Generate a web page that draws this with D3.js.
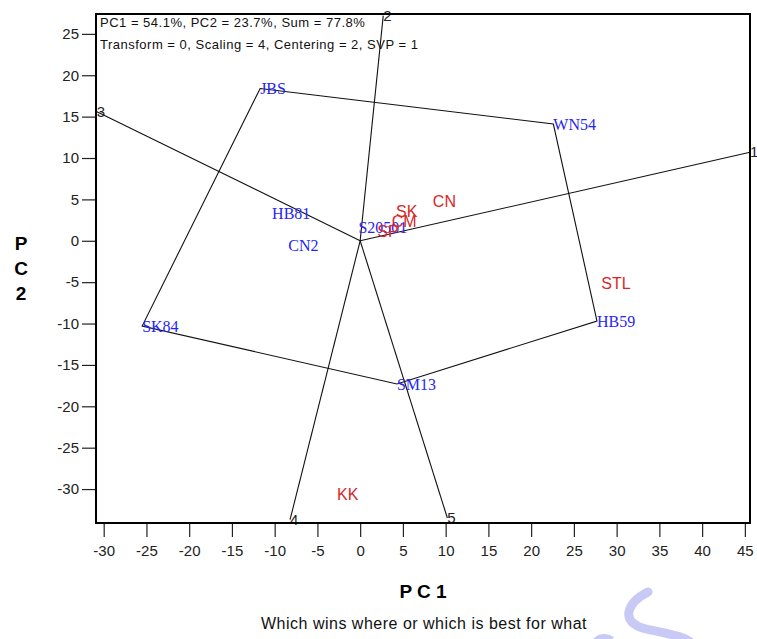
<!DOCTYPE html>
<html>
<head>
<meta charset="utf-8">
<script src="https://cdn.jsdelivr.net/npm/d3@7"></script>
<style>
  html, body { margin: 0; padding: 0; background: #fff; }
  svg { display: block; }
</style>
</head>
<body>
<svg id="chart" width="757" height="639"></svg>
<script>
// Genotypes (blue labels): PC1, PC2 scores
const genotypes = ["JBS", "WN54", "HB59", "SM13", "SK84", "HB81", "CN2", "S20501"];
const genoPC1 = [-11.7, 22.6, 27.7, 4.3, -25.5, -10.3, -8.4, -0.2];
const genoPC2 = [18.4, 14.1, -9.7, -17.3, -10.3, 3.3, -0.6, 1.6];

// Convex hull (polygon) order of genotype vertices
const hullOrder = ["JBS", "WN54", "HB59", "SM13", "SK84"];

// Environments (red labels): PC1, PC2 scores
const environments = ["SK", "CM", "SP", "CN", "STL", "KK"];
const envPC1 = [4.2, 3.7, 2.0, 8.5, 28.2, -2.7];
const envPC2 = [3.6, 2.3, 1.1, 4.7, -5.2, -30.6];

// Sector rays from the origin, perpendicular to polygon sides
const rayIds = ["1", "2", "3", "4", "5"];
const rayPC1 = [45.6, 2.7, -30.8, -8.2, 10.2];
const rayPC2 = [10.7, 27.2, 15.6, -33.7, -33.5];

// Axis ticks
const xTicks = [-30, -25, -20, -15, -10, -5, 0, 5, 10, 15, 20, 25, 30, 35, 40, 45];
const yTicks = [25, 20, 15, 10, 5, 0, -5, -10, -15, -20, -25, -30];

const headerLines = [
  "PC1 = 54.1%, PC2 = 23.7%, Sum = 77.8%",
  "Transform = 0, Scaling = 4, Centering = 2, SVP = 1"
];

const svg = d3.select("#chart");
const frame = { left: 96, right: 750, top: 14, bottom: 523 };

const x = d3.scaleLinear().domain([-30.9, 45.6]).range([frame.left, frame.right]);
const y = d3.scaleLinear().domain([-34.1, 27.4]).range([frame.bottom, frame.top]);

const sans = "'Liberation Sans', Arial, sans-serif";
const serif = "'Liberation Serif', 'Times New Roman', serif";
const plainInt = d => String(d);   // ASCII hyphen for negatives

// Axes
const xAxis = d3.axisBottom(x).tickValues(xTicks).tickSize(14).tickPadding(8).tickFormat(plainInt);
const yAxis = d3.axisLeft(y).tickValues(yTicks).tickSize(14).tickPadding(3).tickFormat(plainInt);

const gx = svg.append("g").attr("transform", `translate(0,${frame.bottom})`).call(xAxis);
const gy = svg.append("g").attr("transform", `translate(${frame.left},0)`).call(yAxis);
[gx, gy].forEach(g => {
  g.select(".domain").remove();
  g.selectAll(".tick line").attr("stroke", "#222").attr("stroke-width", 1.2);
  g.selectAll(".tick text").attr("fill", "#222").style("font-family", sans).style("font-size", "15px");
});

const plot = svg.append("g");

// Sector rays
plot.selectAll("line.ray").data(rayIds).join("line")
  .attr("class", "ray")
  .attr("x1", x(0)).attr("y1", y(0))
  .attr("x2", (d, i) => x(rayPC1[i])).attr("y2", (d, i) => y(rayPC2[i]))
  .attr("stroke", "#111").attr("stroke-width", 1.1);

// Polygon joining the outermost genotypes
const hullPts = hullOrder.map(n => {
  const i = genotypes.indexOf(n);
  return [x(genoPC1[i]), y(genoPC2[i])];
});
plot.append("path")
  .attr("d", d3.line()(hullPts) + "Z")
  .attr("fill", "none").attr("stroke", "#111").attr("stroke-width", 1.1);

// Ray numbers
plot.selectAll("text.rayid").data(rayIds).join("text")
  .attr("class", "rayid")
  .attr("x", (d, i) => x(rayPC1[i]))
  .attr("y", (d, i) => y(rayPC2[i]))
  .attr("dy", "0.35em")
  .attr("fill", "#222")
  .style("font-family", sans).style("font-size", "15px")
  .text(d => d);

// Genotype labels
plot.selectAll("text.geno").data(genotypes).join("text")
  .attr("class", "geno")
  .attr("x", (d, i) => x(genoPC1[i]))
  .attr("y", (d, i) => y(genoPC2[i]))
  .attr("dy", "0.35em")
  .attr("fill", "#2626f5")
  .style("font-family", serif).style("font-size", "16px")
  .text(d => d);

// Environment labels
plot.selectAll("text.env").data(environments).join("text")
  .attr("class", "env")
  .attr("x", (d, i) => x(envPC1[i]))
  .attr("y", (d, i) => y(envPC2[i]))
  .attr("dy", "0.35em")
  .attr("fill", "#d8262a")
  .style("font-family", sans).style("font-size", "16px")
  .text(d => d);

// Frame
svg.append("rect")
  .attr("x", frame.left).attr("y", frame.top)
  .attr("width", frame.right - frame.left).attr("height", frame.bottom - frame.top)
  .attr("fill", "none").attr("stroke", "#000").attr("stroke-width", 2);

// Header
svg.selectAll("text.header").data(headerLines).join("text")
  .attr("class", "header")
  .attr("x", frame.left + 4)
  .attr("y", (d, i) => 22 + i * 22)
  .attr("dy", "0.35em")
  .attr("fill", "#111")
  .style("font-family", sans).style("font-size", "13px").style("letter-spacing", "0.5px")
  .text(d => d);

// Axis titles
svg.append("text")
  .attr("x", 423).attr("y", 591).attr("dy", "0.35em")
  .attr("text-anchor", "middle")
  .style("font-family", sans).style("font-size", "19px").style("font-weight", "bold")
  .text("P C 1");

svg.append("g").selectAll("text").data(["P", "C", "2"]).join("text")
  .attr("x", 21).attr("y", (d, i) => 243 + i * 25).attr("dy", "0.35em")
  .attr("text-anchor", "middle")
  .style("font-family", sans).style("font-size", "19px").style("font-weight", "bold")
  .text(d => d);

svg.append("text")
  .attr("x", 424).attr("y", 623).attr("dy", "0.35em")
  .attr("text-anchor", "middle")
  .attr("fill", "#111")
  .style("font-family", sans).style("font-size", "16px").style("letter-spacing", "0.5px")
  .text("Which wins where or which is best for what");

// Faint decorative stroke in the lower right corner
svg.append("path")
  .attr("d", "M648,592 C628,602 618,622 646,629 C668,634 686,636 694,645")
  .attr("fill", "none").attr("stroke", "#c9c9f6").attr("stroke-width", 9).attr("stroke-linecap", "round");
svg.append("path")
  .attr("d", "M596,641 C600,637 606,636 612,640")
  .attr("fill", "none").attr("stroke", "#c9c9f6").attr("stroke-width", 7);
</script>
</body>
</html>
